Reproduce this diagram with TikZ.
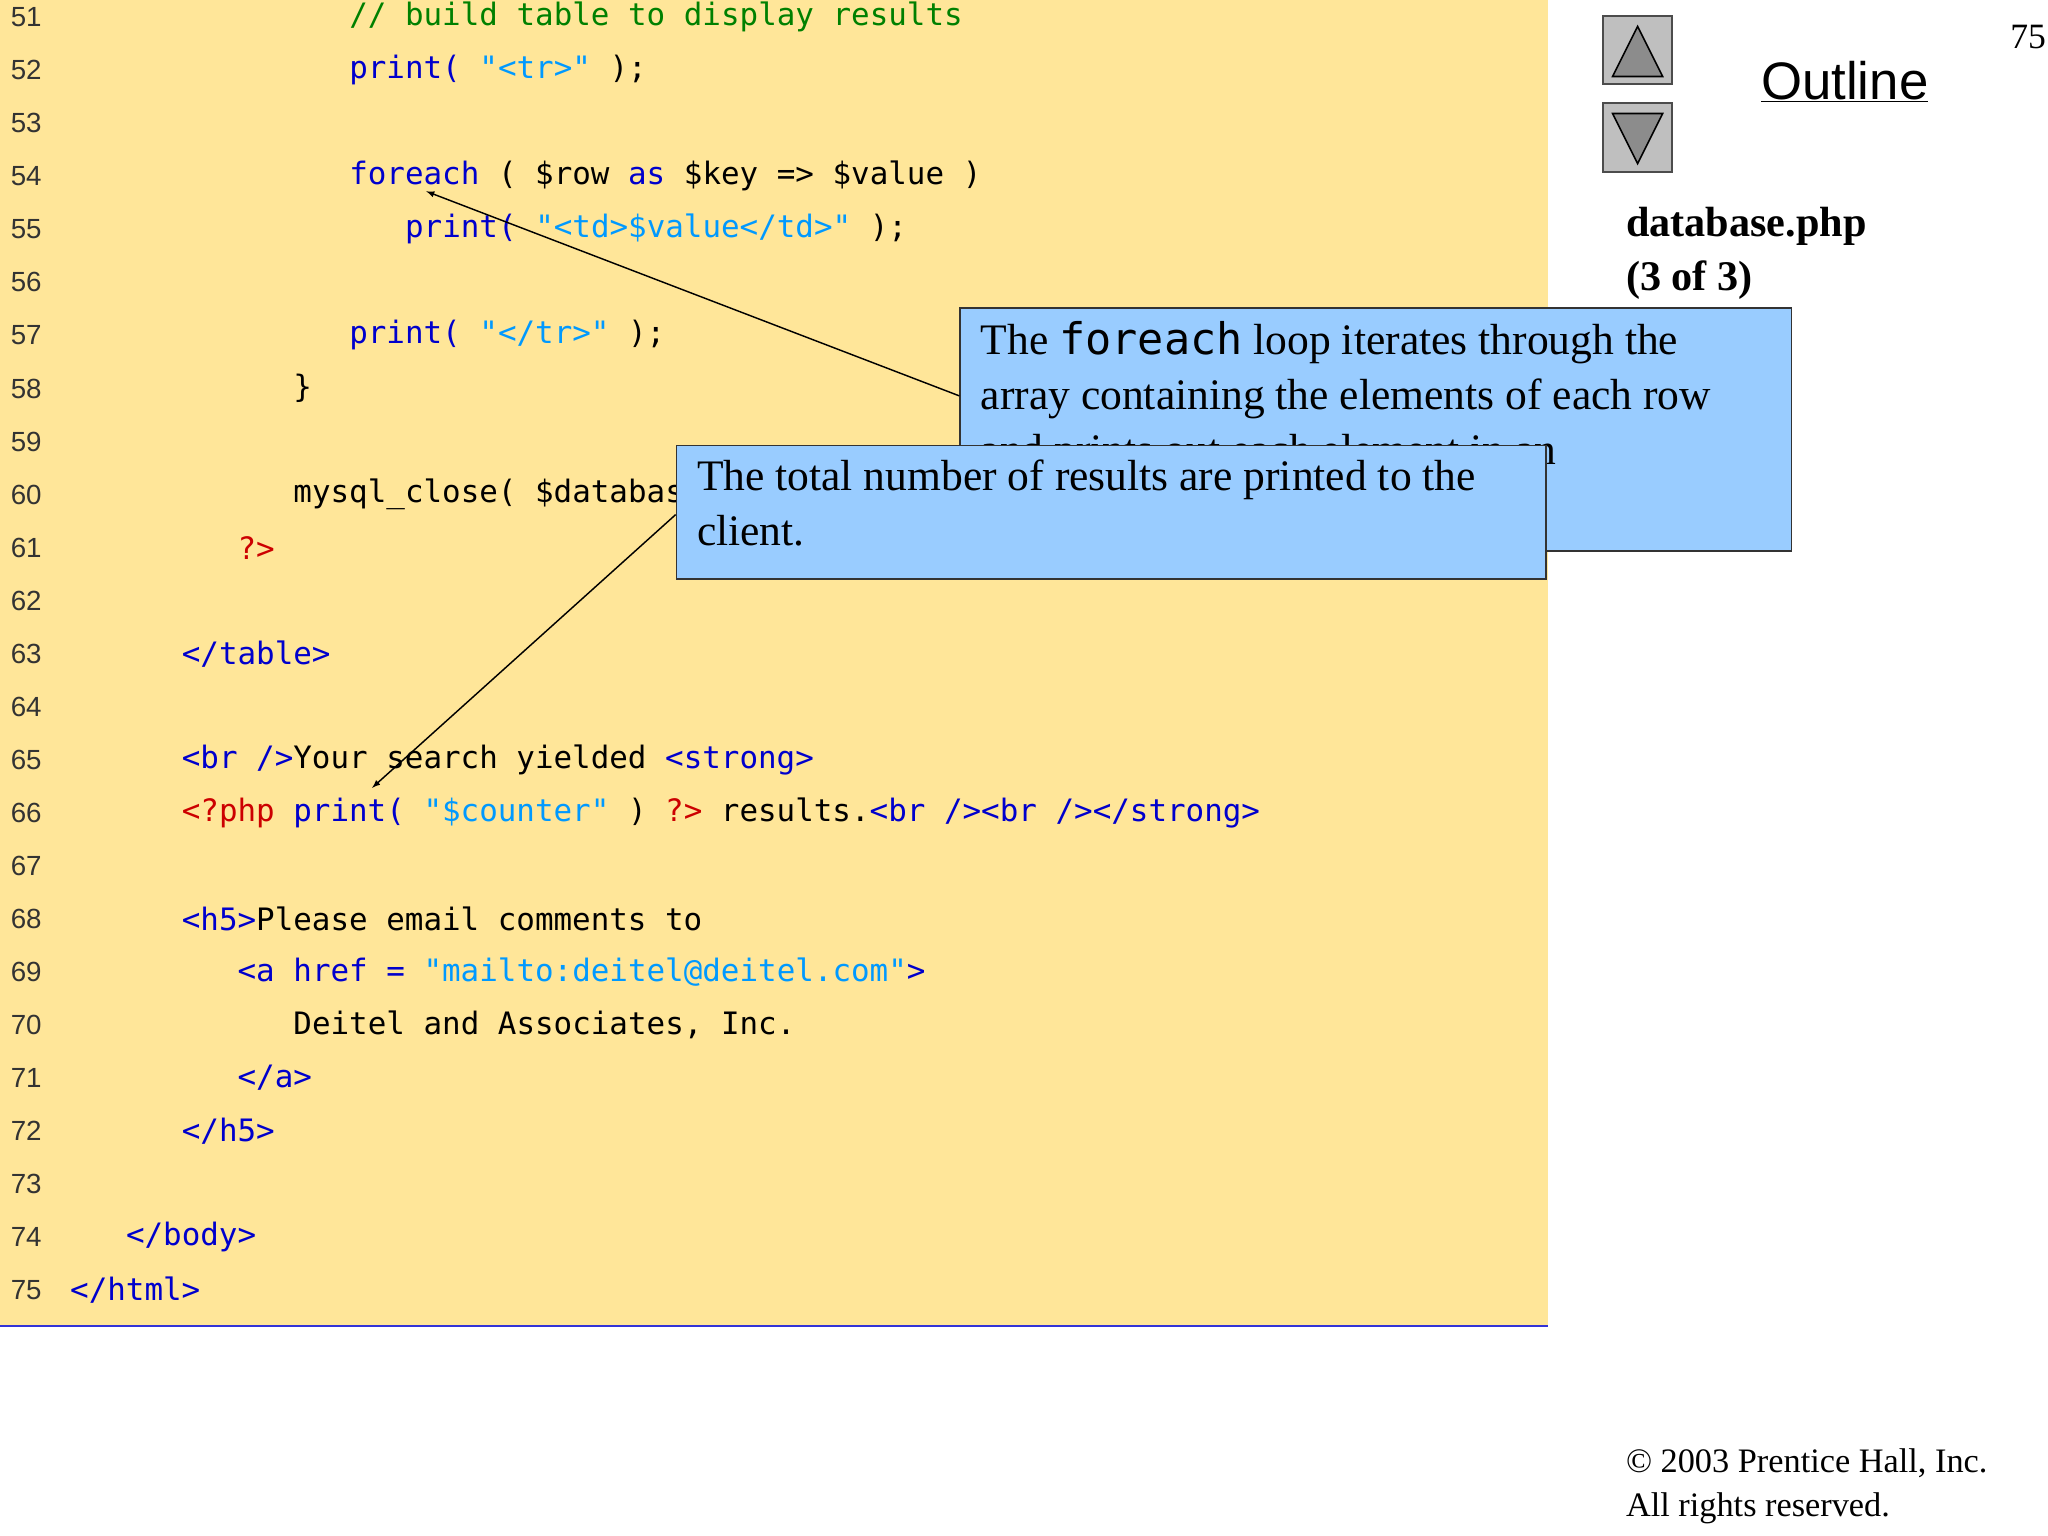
\documentclass[tikz,border=0pt]{standalone}
\usepackage{fontspec}
\setmainfont{Liberation Serif}
\setmonofont{DejaVu Sans Mono}
\newfontfamily\arialf{Liberation Sans}
\definecolor{codebg}{HTML}{FFE699}
\definecolor{kw}{HTML}{0000CC}
\definecolor{str}{HTML}{0099FF}
\definecolor{cmt}{HTML}{008000}
\definecolor{tag}{HTML}{CC0000}
\definecolor{callfill}{HTML}{99CCFF}
\definecolor{lnum}{HTML}{333333}
\newcommand{\K}[1]{\textcolor{kw}{#1}}
\newcommand{\Sg}[1]{\textcolor{str}{#1}}
\newcommand{\Cm}[1]{\textcolor{cmt}{#1}}
\newcommand{\Tg}[1]{\textcolor{tag}{#1}}
\begin{document}
\begin{tikzpicture}[x=1pt,y=-1pt,
  codeline/.style={anchor=west,inner sep=0pt,font=\fontsize{23.4}{28}\selectfont\ttfamily},
  lnumst/.style={anchor=west,inner sep=0pt,font=\fontsize{21}{26}\selectfont\arialf,text=lnum},
  callout/.style={draw=black!80,line width=1.2pt,fill=callfill,anchor=north west,inner sep=0pt},
  calltext/.style={anchor=north west,align=left,font=\fontsize{33}{42}\selectfont,inner sep=0pt},
  pointer/.style={-latex,line width=1.1pt}]
\useasboundingbox (0,0) rectangle (1552,1164);
\fill[codebg] (0,0) rectangle (1173,1005);
\draw[kw!80,line width=1.5pt] (0,1005) -- (1173,1005);
\foreach \n in {51,...,75}{
  \node[lnumst] (ln\n) at (8,{13+40.2*(\n-51)}) {\n};
}
\def\col#1{53+14.1*#1}
\node[codeline] (c51) at ({\col{15}},13) {\Cm{// build table to display results}};
\node[codeline] (c52) at ({\col{15}},53.2) {\K{print(} \Sg{"<tr>"} );};
\node[codeline] (c54) at ({\col{15}},133.6) {\K{foreach} ( \$row \K{as} \$key => \$value )};
\node[codeline] (c55) at ({\col{18}},173.8) {\K{print(} \Sg{"<td>\$value</td>"} );};
\node[codeline] (c57) at ({\col{15}},254.2) {\K{print(} \Sg{"</tr>"} );};
\node[codeline] (c58) at ({\col{12}},294.4) {\}};
\node[codeline] (c60) at ({\col{12}},374.8) {mysql\_close( \$database );};
\node[codeline] (c61) at ({\col{9}},415) {\Tg{?>}};
\node[codeline] (c63) at ({\col{6}},495.4) {\K{</table>}};
\node[codeline] (c65) at ({\col{6}},575.8) {\K{<br />}Your search yielded \K{<strong>}};
\node[codeline] (c66) at ({\col{6}},616) {\Tg{<?php} \K{print(} \Sg{"\$counter"} ) \Tg{?>} results.\K{<br /><br /></strong>}};
\node[codeline] (c68) at ({\col{6}},696.4) {\K{<h5>}Please email comments to};
\node[codeline] (c69) at ({\col{9}},736.6) {\K{<a href =} \Sg{"mailto:deitel@deitel.com"}\K{>}};
\node[codeline] (c70) at ({\col{12}},776.8) {Deitel and Associates, Inc.};
\node[codeline] (c71) at ({\col{9}},817) {\K{</a>}};
\node[codeline] (c72) at ({\col{6}},857.2) {\K{</h5>}};
\node[codeline] (c74) at ({\col{3}},937.6) {\K{</body>}};
\node[codeline] (c75) at ({\col{0}},977.8) {\K{</html>}};
% callout 1
\node[callout,minimum width=630pt,minimum height=184pt] (box1) at (727,233) {};
\node[calltext] (t1) at (743,243) {The {\ttfamily foreach} loop iterates through the\\array containing the elements of each row\\and prints out each element in an\\individual cell.};
\coordinate (p1) at (323,145);
\draw[pointer] (box1.west |- 0,300) -- (p1);
% callout 2
\node[callout,minimum width=659pt,minimum height=101pt] (box2) at (512,337) {};
\node[calltext] (t2) at (528,348) {The total number of results are printed to the\\client.};
\coordinate (p2) at (282,597);
\draw[pointer] (box2.west |- 0,390) -- (p2);
% buttons
\node[draw=black!70,line width=1.5pt,fill=black!25,minimum size=52pt,inner sep=0pt] (up) at (1241,38) {};
\fill[black!45,draw=black,line width=1.2pt] (1241,20) -- (1260,58) -- (1222,58) -- cycle;
\node[draw=black!70,line width=1.5pt,fill=black!25,minimum size=52pt,inner sep=0pt] (down) at (1241,104) {};
\fill[black!45,draw=black,line width=1.2pt] (1241,124) -- (1260,86) -- (1222,86) -- cycle;
\node[font=\fontsize{40}{44}\selectfont\arialf,inner sep=0pt] (outline) at (1398,62) {\underline{Outline}};
\node[font=\fontsize{27}{30}\selectfont,inner sep=0pt] (pg) at (1537,28) {75};
\node[anchor=north west,align=left,inner sep=0pt,font=\fontsize{32}{41}\selectfont\bfseries] (title) at (1232,157) {database.php\\(3 of 3)};
\node[anchor=north west,align=left,inner sep=0pt,font=\fontsize{26}{33}\selectfont] (copy) at (1232,1098) {© 2003 Prentice Hall, Inc.\\All rights reserved.};
\end{tikzpicture}
\end{document}
